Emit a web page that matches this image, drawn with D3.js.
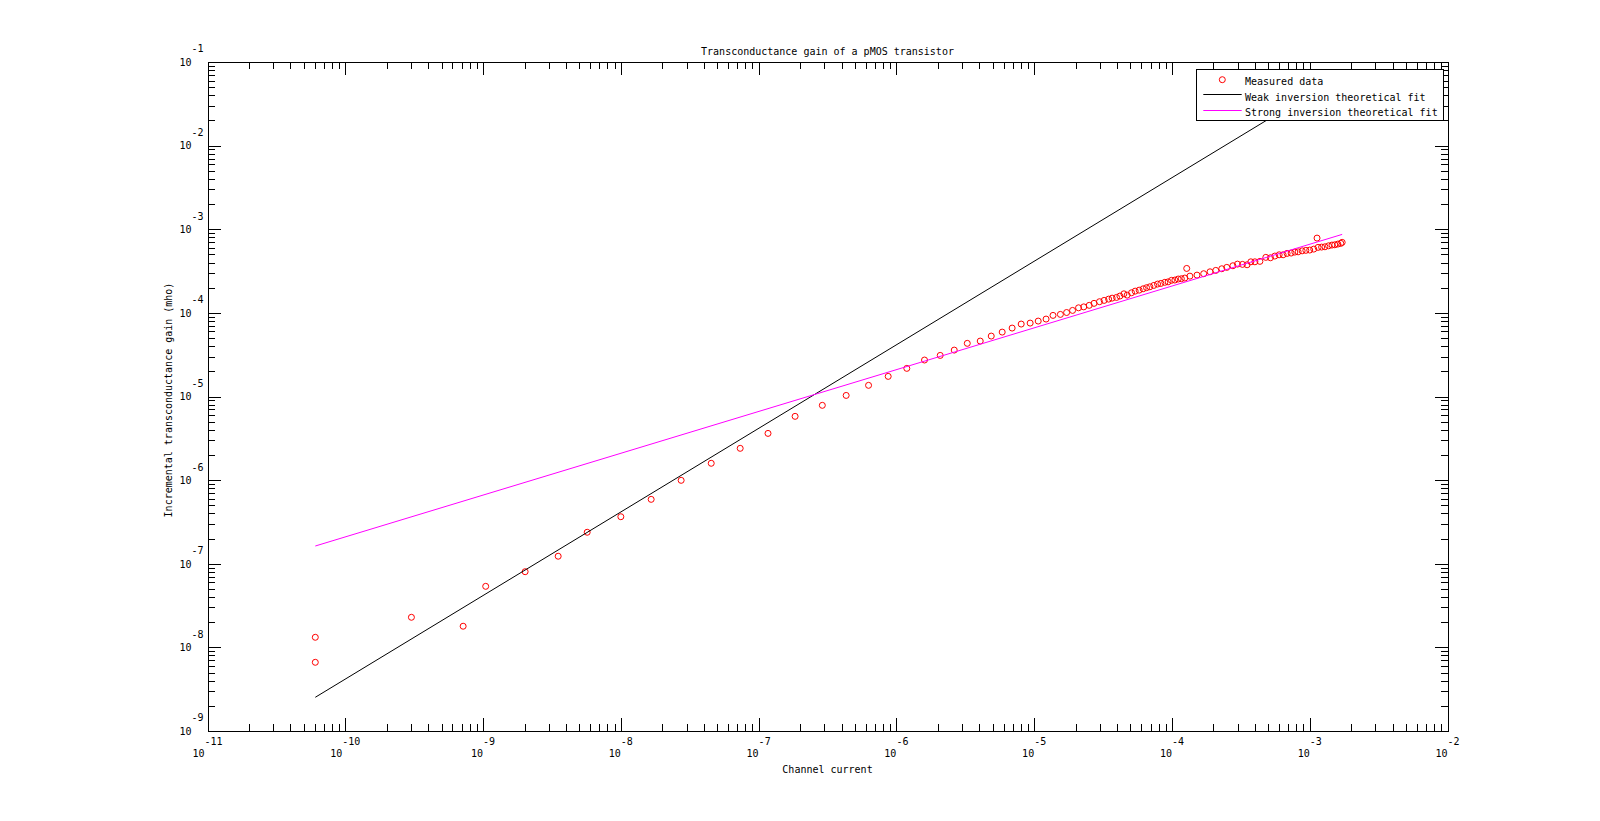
<!DOCTYPE html>
<html>
<head>
<meta charset="utf-8">
<script src="https://cdn.jsdelivr.net/npm/d3@7"></script>
<style>
  body { margin: 0; background: #fff; }
  svg { display: block; }
  text { font-family: "DejaVu Sans Mono", "Liberation Mono", monospace; font-size: 10px; fill: #000; }
  .axis path, .axis line { stroke: #000; stroke-width: 1; shape-rendering: crispEdges; }
</style>
</head>
<body>
<script>
// Measured data: channel current (A) vs incremental transconductance gain (mho)
var current = [6.06e-11, 6.06e-11, 3.02e-10, 7.17e-10, 1.045e-9, 2.02e-9, 3.51e-9, 5.70e-9, 1.00e-8, 1.66e-8,
  2.74e-8, 4.53e-8, 7.35e-8, 1.17e-7, 1.84e-7, 2.90e-7, 4.32e-7, 6.28e-7, 8.72e-7, 1.19e-6,
  1.60e-6, 2.08e-6, 2.63e-6, 3.27e-6, 4.06e-6, 4.88e-6, 5.86e-6, 6.92e-6, 8.05e-6, 9.35e-6,
  1.07e-5, 1.22e-5, 1.37e-5, 1.55e-5, 1.72e-5, 1.90e-5, 2.10e-5, 2.29e-5, 2.51e-5, 2.72e-5,
  2.98e-5, 3.22e-5, 3.47e-5, 3.68e-5, 3.96e-5, 4.19e-5, 4.48e-5, 4.73e-5, 5.09e-5, 5.41e-5,
  5.78e-5, 6.18e-5, 6.54e-5, 6.91e-5, 7.39e-5, 7.86e-5, 8.31e-5, 8.88e-5, 9.38e-5, 9.93e-5,
  1.05e-4, 1.11e-4, 1.17e-4, 1.24e-4, 1.28e-4, 1.35e-4, 1.52e-4, 1.70e-4, 1.89e-4, 2.08e-4,
  2.30e-4, 2.50e-4, 2.77e-4, 2.99e-4, 3.25e-4, 3.51e-4, 3.74e-4, 4.00e-4, 4.35e-4, 4.80e-4,
  5.19e-4, 5.58e-4, 6.00e-4, 6.41e-4, 6.85e-4, 7.33e-4, 7.80e-4, 8.24e-4, 8.81e-4, 9.37e-4,
  1.00e-3, 1.07e-3, 1.13e-3, 1.15e-3, 1.22e-3, 1.29e-3, 1.37e-3, 1.45e-3, 1.52e-3, 1.60e-3,
  1.68e-3, 1.72e-3];
var gm = [1.32e-8, 6.63e-9, 2.29e-8, 1.79e-8, 5.37e-8, 8.03e-8, 1.23e-7, 2.38e-7, 3.65e-7, 5.89e-7,
  9.94e-7, 1.59e-6, 2.40e-6, 3.62e-6, 5.79e-6, 7.84e-6, 1.03e-5, 1.36e-5, 1.74e-5, 2.17e-5,
  2.73e-5, 3.10e-5, 3.59e-5, 4.32e-5, 4.60e-5, 5.28e-5, 5.89e-5, 6.58e-5, 7.35e-5, 7.55e-5,
  7.98e-5, 8.43e-5, 9.33e-5, 9.59e-5, 1.01e-4, 1.07e-4, 1.15e-4, 1.18e-4, 1.23e-4, 1.30e-4,
  1.36e-4, 1.41e-4, 1.46e-4, 1.50e-4, 1.53e-4, 1.59e-4, 1.69e-4, 1.63e-4, 1.74e-4, 1.82e-4,
  1.87e-4, 1.94e-4, 2.00e-4, 2.05e-4, 2.13e-4, 2.21e-4, 2.25e-4, 2.32e-4, 2.35e-4, 2.45e-4,
  2.47e-4, 2.54e-4, 2.56e-4, 2.61e-4, 3.40e-4, 2.75e-4, 2.83e-4, 2.94e-4, 3.10e-4, 3.22e-4,
  3.37e-4, 3.50e-4, 3.66e-4, 3.83e-4, 3.80e-4, 3.76e-4, 4.08e-4, 4.08e-4, 4.13e-4, 4.61e-4,
  4.56e-4, 4.78e-4, 4.95e-4, 4.95e-4, 5.14e-4, 5.19e-4, 5.33e-4, 5.37e-4, 5.52e-4, 5.59e-4,
  5.64e-4, 5.79e-4, 7.84e-4, 6.07e-4, 6.12e-4, 6.17e-4, 6.34e-4, 6.47e-4, 6.52e-4, 6.65e-4,
  6.78e-4, 6.97e-4];

// Theoretical fits (end points)
var weakFitI = [6.06e-11, 1.72e-3];
var weakFitGm = [2.53e-9, 7.1e-2];
var strongFitI = [6.06e-11, 1.72e-3];
var strongFitGm = [1.63e-7, 8.68e-4];

// Tick exponents and labels
var xTickExp = [-11, -10, -9, -8, -7, -6, -5, -4, -3, -2];
var yTickExp = [-9, -8, -7, -6, -5, -4, -3, -2, -1];
var legendLabels = ["Measured data", "Weak inversion theoretical fit", "Strong inversion theoretical fit"];
var titleText = "Transconductance gain of a pMOS transistor";
var xLabelText = "Channel current";
var yLabelText = "Incremental transconductance gain (mho)";

var W = 1600, H = 821;
// axes box (note: "top" is reserved on window, so use prefixed names)
var axL = 207.5, axR = 1447.5, axT = 62, axB = 731;

var svg = d3.select("body").append("svg")
  .attr("width", W)
  .attr("height", H);

var x = d3.scaleLog().domain([1e-11, 1e-2]).range([axL, axR]);
var y = d3.scaleLog().domain([1e-9, 1e-1]).range([axB, axT]);

var xMajor = xTickExp.map(function (e) { return Math.pow(10, e); });
var yMajor = yTickExp.map(function (e) { return Math.pow(10, e); });
// minor ticks 2..9 x 10^k
function isMinor(d) { return Math.abs(Math.log10(d) - Math.round(Math.log10(d))) > 1e-6; }
var xMinor = x.ticks().filter(isMinor);
var yMinor = y.ticks().filter(isMinor);

function addAxis(gen, tx, ty, vals, size) {
  svg.append("g")
    .attr("class", "axis")
    .attr("transform", "translate(" + tx + "," + ty + ")")
    .call(gen.tickValues(vals).tickSizeInner(size).tickSizeOuter(0).tickFormat(""))
    .selectAll("text").remove();
}

// ticks on all four sides, pointing inward
addAxis(d3.axisBottom(x), 0, axB, xMajor, -13);
addAxis(d3.axisBottom(x), 0, axB, xMinor, -7);
addAxis(d3.axisTop(x), 0, axT, xMajor, -13);
addAxis(d3.axisTop(x), 0, axT, xMinor, -7);
addAxis(d3.axisLeft(y), axL, 0, yMajor, -13);
addAxis(d3.axisLeft(y), axL, 0, yMinor, -7);
addAxis(d3.axisRight(y), axR, 0, yMajor, -13);
addAxis(d3.axisRight(y), axR, 0, yMinor, -7);

// x tick labels: 10 with exponent
var xl = svg.selectAll("text.xtick")
  .data(xTickExp)
  .enter().append("text")
  .attr("class", "xtick")
  .attr("text-anchor", "middle")
  .attr("x", function (d) { return x(Math.pow(10, d)); })
  .attr("y", axB + 25.7);
xl.append("tspan").text("10");
xl.append("tspan").attr("dy", -11.7).text(function (d) { return "-" + Math.abs(d); });

// y tick labels
var yl = svg.selectAll("text.ytick")
  .data(yTickExp)
  .enter().append("text")
  .attr("class", "ytick")
  .attr("text-anchor", "end")
  .attr("x", axL - 4)
  .attr("y", function (d) { return y(Math.pow(10, d)) + 3.8; });
yl.append("tspan").text("10");
yl.append("tspan").attr("dy", -13.4).text(function (d) { return "-" + Math.abs(d); });

// title and axis labels
svg.append("text")
  .attr("x", (axL + axR) / 2)
  .attr("y", 55)
  .attr("text-anchor", "middle")
  .text(titleText);

svg.append("text")
  .attr("x", (axL + axR) / 2)
  .attr("y", 773.3)
  .attr("text-anchor", "middle")
  .text(xLabelText);

svg.append("text")
  .attr("transform", "translate(171.5,400) rotate(-90)")
  .attr("text-anchor", "middle")
  .text(yLabelText);

// clip to axes
svg.append("clipPath").attr("id", "clip")
  .append("rect")
  .attr("x", axL).attr("y", axT)
  .attr("width", axR - axL).attr("height", axB - axT);

var plot = svg.append("g").attr("clip-path", "url(#clip)");

// measured data
plot.selectAll("circle.meas")
  .data(current)
  .enter().append("circle")
  .attr("class", "meas")
  .attr("cx", function (d) { return x(d); })
  .attr("cy", function (d, i) { return y(gm[i]); })
  .attr("r", 3)
  .attr("fill", "none")
  .attr("stroke", "#ff0000")
  .attr("stroke-width", 1);

var line = d3.line()
  .x(function (d) { return x(d[0]); })
  .y(function (d) { return y(d[1]); });

plot.append("path")
  .datum(d3.zip(weakFitI, weakFitGm))
  .attr("d", line)
  .attr("fill", "none")
  .attr("stroke", "#000000")
  .attr("stroke-width", 1);

plot.append("path")
  .datum(d3.zip(strongFitI, strongFitGm))
  .attr("d", line)
  .attr("fill", "none")
  .attr("stroke", "#ff00ff")
  .attr("stroke-width", 1);

// legend
var lg = svg.append("g").attr("class", "legend");
lg.append("rect")
  .attr("x", 1196.5).attr("y", 69.5)
  .attr("width", 247).attr("height", 50.5)
  .attr("fill", "#fff")
  .attr("stroke", "#000")
  .attr("stroke-width", 1)
  .attr("shape-rendering", "crispEdges");

var rowY = [85, 100.7, 116];
lg.append("circle")
  .attr("cx", 1222.3).attr("cy", 79.7).attr("r", 3)
  .attr("fill", "none").attr("stroke", "#ff0000");
lg.append("line")
  .attr("x1", 1203.3).attr("x2", 1241.7).attr("y1", 94.5).attr("y2", 94.5)
  .attr("stroke", "#000");
lg.append("line")
  .attr("x1", 1203.3).attr("x2", 1241.7).attr("y1", 110.5).attr("y2", 110.5)
  .attr("stroke", "#ff00ff");
lg.selectAll("text.lt")
  .data(legendLabels)
  .enter().append("text")
  .attr("class", "lt")
  .attr("x", 1245)
  .attr("y", function (d, i) { return rowY[i]; })
  .text(function (d) { return d; });
</script>
</body>
</html>
